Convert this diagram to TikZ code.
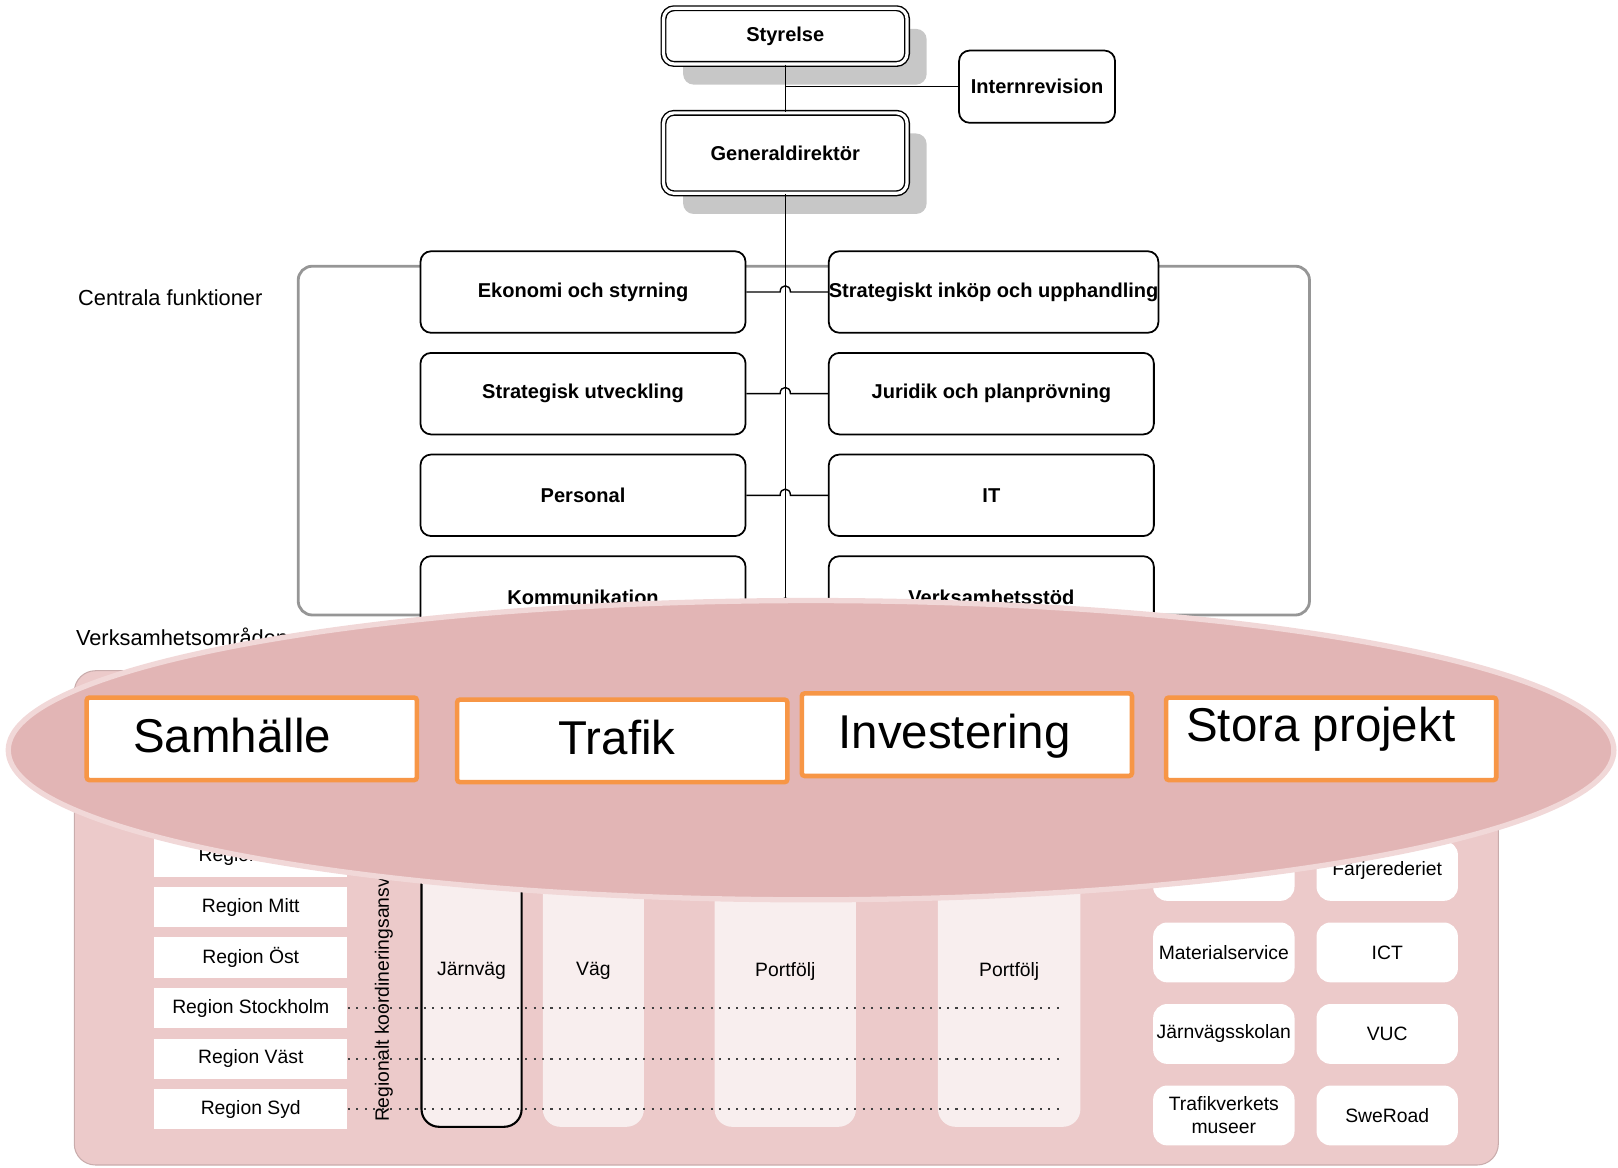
\documentclass[tikz,border=0pt]{standalone}
\usepackage{fontspec}
\setmainfont{Liberation Sans}
\usetikzlibrary{calc,positioning,shapes.geometric,shadows}

\definecolor{ovalpink}{RGB}{226,181,181}
\definecolor{ovaledge}{RGB}{241,216,216}
\definecolor{panelpink}{RGB}{236,202,202}
\definecolor{colpink}{RGB}{248,238,238}
\definecolor{framegray}{RGB}{150,150,150}
\definecolor{boxorange}{RGB}{247,150,70}

\tikzset{
  topbox/.style={draw, double, line width=0.4pt, double distance=0.9pt, rounded corners=3pt,
    fill=white, minimum width=236*\px, font=\bfseries\fontsize{5.7}{7}\selectfont,
    drop shadow={shadow xshift=19*\px, shadow yshift=-20*\px, fill=black!22, opacity=1}},
  irbox/.style={draw, line width=0.5pt, rounded corners=3pt, fill=white,
    minimum width=138*\px, minimum height=70*\px, font=\bfseries\fontsize{5.7}{7}\selectfont},
  funcbox/.style={draw, line width=0.5pt, rounded corners=3pt, fill=white, inner xsep=0pt,
    minimum width=315*\px, minimum height=79*\px, font=\bfseries\fontsize{5.7}{7}\selectfont},
  lbl/.style={inner sep=0pt, font=\fontsize{6.2}{7.5}\selectfont},
  regbox/.style={fill=white, inner sep=0pt, minimum width=187*\px, minimum height=39*\px,
    font=\fontsize{5.5}{6.6}\selectfont},
  colbox/.style={fill=colpink, rounded corners=5pt, inner sep=0pt, minimum height=302*\px,
    font=\fontsize{5.5}{6.6}\selectfont},
  unitbox/.style={fill=white, rounded corners=4pt, inner sep=0pt, align=center,
    minimum width=137*\px, minimum height=58*\px, font=\fontsize{5.5}{6.6}\selectfont},
  areabox/.style={draw=boxorange, line width=1.3pt, fill=white, rounded corners=0.8pt,
    inner sep=0pt, minimum width=320*\px, minimum height=80*\px},
  areatext/.style={inner sep=0pt, font=\fontsize{13.5}{16}\selectfont},
  regline/.style={black!75, line width=0.5pt, dash pattern=on 0.6pt off 1.8pt}
}

\begin{document}
\begin{tikzpicture}[x=0.010319cm, y=-0.010319cm, node distance = 1cm]
\def\px{0.010319cm};
\useasboundingbox (0,0) rectangle (1568,1131);

\node[topbox, minimum height=54*\px] (sty) at (761,35) {Styrelse};
\node[topbox, minimum height=78*\px, below=46*\px of sty] (gd) {Generaldirektör};
\node[irbox] (ir) at (1005,84) {Internrevision};

\draw (sty.south) -- (gd.north);
\draw (ir.west) -- (ir.west -| sty.south);

% centrala funktioner
\draw[framegray, line width=0.8pt, rounded corners=4pt] (289,258) rectangle (1269,596);
\node[lbl] (cflbl) at (165,289) {Centrala funktioner};

\coordinate (trunkend) at (761,610);
\draw (gd.south) -- (trunkend);

\foreach \ltxt/\rtxt [count=\i] in {Ekonomi och styrning/Strategiskt inköp och upphandling,
  Strategisk utveckling/Juridik och planprövning, Personal/IT, Kommunikation/Verksamhetsstöd}
{
	\node[funcbox] (L\i) at (565,{283+98.5*(\i-1)}) {\ltxt};
	\node[funcbox, right=79*\px of L\i] (R\i) {\rtxt};

	\pgfmathsetmacro{\hopdy}{\i==4 ? 7 : 0}
	\coordinate (hop\i) at ($(L\i.east -| gd.south)+(0,\hopdy)$);
	\draw ($(L\i.east)+(0,\hopdy)$) -- ($(hop\i)+(-5,0)$)
		.. controls +(0,-8) and +(0,-8) .. ($(hop\i)+(5,0)$) -- ($(R\i.west)+(0,\hopdy)$);
}

% verksamhetsomraden
\node[lbl, anchor=west] (valbl) at (73,617) {Verksamhetsområden};
\draw[draw=panelpink!85!black, line width=0.3pt, fill=panelpink, rounded corners=6pt]
	(72,650) rectangle (1452,1129);

\foreach \reg [count=\i] in {Norr,Mitt,Öst,Stockholm,Väst,Syd}
	\node[regbox] (reg\i) at (243,{830+49*(\i-1)}) {Region \reg};

\node[regbox, fill=none, rotate=90, anchor=west, minimum width=0pt, minimum height=0pt]
	(koord) at (372,1088) {Regionalt koordineringsansvar};

\node[colbox, draw=black, line width=0.6pt, minimum width=97*\px] (jv) at (457,941) {Järnväg};
\node[colbox, minimum width=98*\px] (vag) at (575,941) {Väg};
\node[colbox, minimum width=137*\px] (pf1) at (761,941) {Portfölj};
\node[colbox, minimum width=138*\px] (pf2) at (978,941) {Portfölj};

\coordinate (dotend) at (1030,1000);
\foreach \i in {4,5,6}
	\draw[regline] (reg\i.east) -- (reg\i.east -| dotend);

\foreach \ltxt/\rtxt [count=\i] in {{}/Färjerederiet, Materialservice/ICT,
  Järnvägsskolan/VUC, {Trafikverkets\\museer}/SweRoad}
{
	\node[unitbox] (U\i) at (1186,{844+79*(\i-1)}) {\ltxt};
	\node[unitbox, right=20*\px of U\i] (V\i) {\rtxt};
}

% ovalen
\node[ellipse, fill=ovalpink, draw=ovaledge, line width=1.5pt,
	minimum width=1556*\px, minimum height=290*\px] (oval) at (786,727) {};

\node[areabox] (samh) at (244,716) {};
\node[areabox] (traf) at (603,718) {};
\node[areabox] (inv) at (937,712) {};
\node[areabox] (stora) at (1290,716) {};

\node[areatext] (samhtxt) at (225,713) {Samhälle};
\node[areatext] (traftxt) at (598,715) {Trafik};
\node[areatext] (invtxt) at (925,713) {Investering};
\node[areatext] (storatxt) at (1280,707) {Stora projekt};

\end{tikzpicture}
\end{document}
